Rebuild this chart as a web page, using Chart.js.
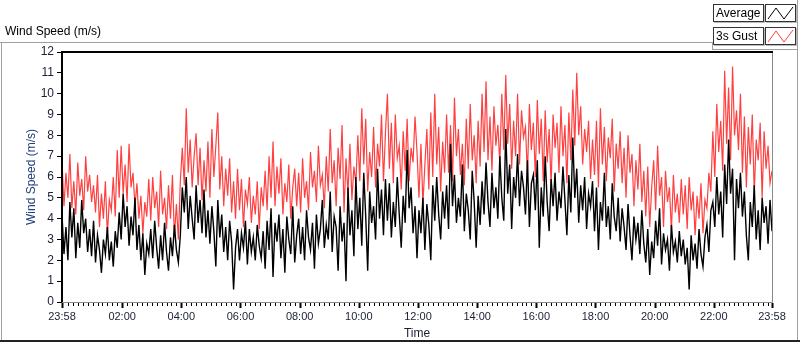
<!DOCTYPE html>
<html>
<head>
<meta charset="utf-8">
<title>Wind Speed</title>
<script src="https://cdn.jsdelivr.net/npm/chart.js@4.4.1/dist/chart.umd.min.js"></script>
<style>
  html, body { margin: 0; padding: 0; background: #fff; }
  body { width: 800px; height: 342px; position: relative; overflow: hidden; font-family: "Liberation Sans", Arial, sans-serif; }
  #chartBox { position: absolute; left: 0; top: 0; width: 800px; height: 342px; }
  .graphTitle { position: absolute; left: 5px; top: 24px; font-size: 12px; color: #000; }
  .line { position: absolute; background: #a0a0a0; }
  .lgLabel { position: absolute; left: 713px; width: 47px; height: 16px; border: 1px solid #333; background: #fff;
             font-size: 12px; line-height: 16px; padding-left: 2px; box-sizing: content-box; color: #000;
             box-shadow: 1px 1px 0 #bbb; }
  .lgSwatch { position: absolute; left: 765px; width: 29px; height: 16px; border: 1px solid #333; background: #fff;
              box-shadow: 1px 1px 0 #bbb; }
</style>
</head>
<body>
<div id="chartBox"><canvas id="windChart" width="800" height="342"></canvas></div>

<div class="graphTitle">Wind Speed (m/s)</div>
<div class="line" style="left:0;top:42px;width:712px;height:1px"></div>
<div class="line" style="left:712px;top:42px;width:1px;height:8px"></div>
<div class="line" style="left:712px;top:49px;width:86px;height:1px"></div>
<div class="line" style="left:797px;top:0;width:1px;height:342px"></div>
<div class="line" style="left:1px;top:42px;width:1px;height:300px"></div>
<div class="line" style="left:0;top:340px;width:800px;height:2px;background:#222"></div>

<div class="lgLabel" style="top:4px">Average</div>
<div class="lgSwatch" style="top:4px">
  <svg width="29" height="16"><polyline points="2,14 10,3 18,14 27,2" fill="none" stroke="#000" stroke-width="1"/></svg>
</div>
<div class="lgLabel" style="top:27px">3s Gust</div>
<div class="lgSwatch" style="top:27px">
  <svg width="29" height="16"><polyline points="2,14 10,3 18,14 27,2" fill="none" stroke="#ff4040" stroke-width="1"/></svg>
</div>

<script>
// samples every 4 minutes, starting 23:58 the previous day (one row = one hour)
const STEP_MIN = 4;

const gust3s = [
  6.8,4.6,6.2,5.0,7.1,4.5,5.8,4.2,6.7,5.1,5.9,4.4,7.0,5.3,6.1,
  4.8,5.6,4.3,6.1,3.6,5.2,4.0,5.8,3.2,4.9,4.4,6.0,4.1,7.3,5.0,
  7.5,5.2,6.6,4.8,7.6,5.5,6.2,4.6,5.7,4.0,5.1,3.3,4.8,4.1,5.9,
  3.9,6.0,4.5,5.3,3.6,6.3,4.2,5.0,3.5,5.6,4.0,6.1,3.1,4.7,3.0,
  5.8,7.4,5.6,9.3,6.2,7.8,5.5,7.0,8.1,5.6,7.4,4.9,6.8,5.3,7.7,
  5.0,8.3,6.0,7.5,9.1,5.4,7.0,4.6,6.4,5.1,6.9,4.3,5.8,4.0,6.4,
  4.4,5.9,3.6,5.4,4.7,6.0,3.8,5.1,4.2,5.8,3.5,5.5,4.6,6.3,4.4,
  7.0,5.0,7.7,4.6,6.5,5.2,6.9,4.2,5.7,4.8,6.6,4.0,5.5,6.4,4.6,
  6.2,4.3,6.9,5.0,5.8,4.4,7.2,5.5,6.3,4.8,7.5,5.6,6.1,4.5,7.0,
  5.3,8.3,5.7,6.8,4.6,7.4,5.9,8.5,4.3,6.9,5.2,7.6,4.9,6.5,5.7,
  8.0,5.8,9.3,6.6,8.8,5.3,7.2,6.0,8.4,5.5,7.6,6.5,9.0,5.8,8.1,
  10.0,6.4,8.6,5.7,9.0,6.9,7.5,5.4,8.2,6.3,8.8,5.8,7.4,6.7,8.9,
  7.2,5.0,7.6,4.7,6.6,8.3,5.4,9.1,6.0,10.0,6.6,8.4,5.3,7.7,6.2,
  9.0,6.2,8.5,5.8,9.8,7.0,8.3,6.1,7.6,5.6,8.8,6.4,9.5,6.8,8.0,
  5.7,8.7,6.5,10.0,7.2,10.6,6.8,8.9,6.3,9.4,7.5,8.5,6.6,10.0,7.3,
  10.9,7.6,9.5,6.4,8.7,7.0,10.0,6.6,9.2,7.9,8.4,6.1,9.5,7.3,8.6,
  6.0,9.7,7.1,8.8,5.8,9.2,6.7,8.3,5.6,9.0,7.4,8.6,6.2,9.4,7.0,
  8.5,5.7,9.1,6.8,10.2,7.5,11.0,8.0,9.4,6.6,8.3,7.2,8.7,5.9,7.8,
  6.1,8.7,5.5,9.3,6.6,8.4,5.8,7.9,6.9,8.8,5.3,7.6,6.4,8.2,5.7,
  7.4,5.0,8.0,6.2,7.1,4.6,6.8,5.4,7.6,4.8,6.3,4.1,6.5,3.6,5.5,
  6.8,4.4,7.5,5.1,6.0,3.6,6.3,4.8,5.5,3.4,6.1,4.3,5.2,3.8,5.9,
  4.2,5.6,3.5,6.0,4.4,5.3,3.2,5.1,4.0,5.7,3.3,4.9,4.5,6.2,5.3,
  8.2,6.0,9.5,7.2,8.7,6.3,11.1,7.6,10.3,6.8,11.3,8.0,9.2,7.3,10.0,
  6.2,8.9,5.5,8.4,6.6,9.0,5.2,7.8,6.8,8.6,5.0,8.2,6.4,7.5,5.7,
  6.3
];

const average = [
  4.2,2.3,3.6,2.0,4.8,3.1,4.5,2.1,3.8,2.6,4.9,3.3,4.0,2.4,3.5,
  2.2,3.9,1.9,3.2,2.5,1.4,3.0,2.3,3.6,2.0,2.9,1.7,3.4,2.6,4.3,
  3.0,5.2,3.6,4.6,2.7,4.1,3.2,5.0,2.5,3.7,2.0,3.3,1.3,2.8,2.3,
  3.5,2.1,3.9,2.6,1.6,3.2,2.0,3.8,2.4,1.5,3.1,2.2,3.7,2.5,1.9,
  3.2,5.5,4.3,6.0,3.5,5.1,4.0,3.0,5.6,3.8,4.9,3.3,5.4,3.1,4.4,
  2.8,4.6,3.4,1.7,4.9,3.1,4.2,2.4,3.6,2.0,3.9,2.9,0.6,2.6,3.5,
  2.0,3.3,2.6,3.9,1.8,3.5,2.4,3.1,2.0,3.7,2.7,2.1,3.4,1.6,3.9,
  2.5,4.5,1.2,3.8,2.9,4.2,2.1,3.5,1.4,4.1,3.0,2.3,4.6,1.9,3.2,
  4.0,2.3,3.6,2.0,4.4,3.1,2.5,3.8,1.6,4.2,2.8,3.5,4.9,2.6,3.7,
  3.0,5.3,2.4,4.1,3.6,1.5,4.6,2.9,3.8,1.0,5.5,3.2,4.4,2.2,6.0,
  3.5,5.0,2.7,6.2,4.1,1.5,5.3,3.8,4.6,3.0,6.4,4.0,5.4,3.2,5.9,
  3.9,5.7,3.1,4.8,3.6,6.0,4.2,2.6,5.1,3.8,7.3,4.5,5.5,3.3,4.6,
  2.1,4.4,3.3,5.0,2.5,4.7,3.7,2.0,5.6,3.9,6.0,4.2,3.0,5.3,4.0,
  5.6,3.5,7.6,4.6,6.1,3.8,5.0,4.1,6.6,3.4,5.2,4.4,3.0,6.3,4.8,
  2.6,5.1,3.7,5.8,4.2,6.7,4.8,3.6,6.2,4.5,5.5,4.0,7.0,5.0,3.9,
  8.3,5.2,6.6,3.5,6.0,5.0,7.1,4.6,6.3,5.5,4.2,6.8,3.6,5.7,6.1,
  4.4,6.8,2.6,5.5,4.1,7.0,4.8,3.4,5.9,4.6,6.2,3.9,5.3,4.5,6.5,
  4.9,3.2,6.1,4.3,7.9,5.0,6.4,3.8,5.6,4.4,6.0,3.5,5.2,4.6,5.8,
  3.4,5.5,2.5,4.8,3.9,6.2,3.6,4.6,3.0,5.7,4.1,3.4,5.0,2.9,4.5,
  3.6,2.5,4.7,3.2,2.0,4.1,3.0,3.8,2.3,4.4,2.8,1.9,3.5,1.3,2.9,
  2.1,3.9,2.7,4.5,1.8,3.3,2.5,3.0,1.5,3.7,2.4,2.9,1.9,3.4,2.2,
  3.0,1.8,2.6,0.6,3.2,2.0,2.8,1.6,3.5,2.3,1.7,3.1,3.7,2.4,4.4,
  4.8,3.6,6.0,4.2,5.3,3.1,6.6,4.7,7.8,5.2,6.4,2.0,5.9,4.5,6.2,
  4.1,5.3,3.2,2.0,4.8,3.6,5.6,3.0,4.4,2.5,5.0,3.8,4.6,2.8,4.9,
  3.4
];

const X_MAX = 1440;        // minutes shown, 23:58 -> 23:58
const MAJOR_EVERY = 120;   // labelled ticks every 2 h
const MINOR_EVERY = 10;
const HOUR_OFFSET = 2;     // 00:00 sits 2 min after the start

const toPoints = (vals) => vals.map((v, i) => ({ x: i * STEP_MIN, y: v }));

const fmtTime = (m) => {
  if (m === 0 || m === X_MAX) return "23:58";
  const h = Math.round((m - HOUR_OFFSET) / 60);
  return String(h).padStart(2, "0") + ":00";
};

const framePlugin = {
  id: "frame",
  afterDraw(chart) {
    const { ctx, chartArea: a, scales } = chart;
    const xs = scales.x;
    ctx.save();
    ctx.strokeStyle = "#000";
    xs.ticks.forEach((t) => {
      const px = Math.round(xs.getPixelForValue(t.value)) + 0.5;
      ctx.lineWidth = t.major ? 2 : 1;
      ctx.beginPath();
      ctx.moveTo(px, a.bottom + 1);
      ctx.lineTo(px, a.bottom + (t.major ? 6 : 4));
      ctx.stroke();
    });
    ctx.lineWidth = 1;
    ctx.strokeStyle = "#8a8a8a";
    ctx.beginPath();
    ctx.moveTo(a.left, a.bottom + 0.5);
    ctx.lineTo(a.right + 0.5, a.bottom + 0.5);
    ctx.lineTo(a.right + 0.5, a.top);
    ctx.stroke();
    ctx.lineWidth = 2;
    ctx.strokeStyle = "#000";
    ctx.beginPath();
    ctx.moveTo(a.left, a.bottom);
    ctx.lineTo(a.left, a.top);
    ctx.lineTo(a.right + 1, a.top);
    ctx.stroke();
    ctx.restore();
  },
};

new Chart(document.getElementById("windChart"), {
  type: "line",
  data: {
    datasets: [
      { label: "Average", data: toPoints(average), borderColor: "#000", borderWidth: 1.4, pointRadius: 0, tension: 0 },
      { label: "3s Gust", data: toPoints(gust3s), borderColor: "#ff4040", borderWidth: 1.2, pointRadius: 0, tension: 0 },
    ],
  },
  options: {
    responsive: false,
    animation: false,
    events: [],
    layout: { padding: { top: 52, right: 28, left: 0, bottom: 0 } },
    plugins: { legend: { display: false }, tooltip: { enabled: false } },
    scales: {
      x: {
        type: "linear",
        min: 0,
        max: X_MAX,
        afterFit: (s) => { s.height = 40; },
        afterBuildTicks: (s) => {
          const ticks = [{ value: 0, major: true }];
          for (let m = HOUR_OFFSET + MINOR_EVERY; m < X_MAX; m += MINOR_EVERY) {
            ticks.push({ value: m, major: (m - HOUR_OFFSET) % MAJOR_EVERY === 0 });
          }
          ticks.push({ value: X_MAX, major: true });
          s.ticks = ticks;
        },
        grid: { display: false, drawTicks: true, tickLength: 6 },
        border: { display: false },
        ticks: {
          autoSkip: false,
          maxRotation: 0,
          padding: 2,
          color: "#1a1f33",
          font: { family: "Liberation Sans", size: 11 },
          callback: function (value, index, ticks) {
            return ticks[index].major ? fmtTime(value) : "";
          },
        },
        title: {
          display: true,
          text: "Time",
          color: "#1a1f33",
          padding: { top: 0, bottom: 1 },
          font: { family: "Liberation Sans", size: 12 },
        },
      },
      y: {
        min: 0,
        max: 12,
        afterFit: (s) => { s.width = 62; },
        grid: { drawOnChartArea: false, drawTicks: true, tickLength: 5, color: "#000" },
        border: { display: false },
        ticks: {
          stepSize: 1,
          padding: 3,
          color: "#1a1f33",
          font: { family: "Liberation Sans", size: 12 },
        },
        title: {
          display: true,
          text: "Wind Speed (m/s)",
          color: "#23407a",
          padding: { top: 24, bottom: 0 },
          font: { family: "Liberation Sans", size: 12 },
        },
      },
    },
  },
  plugins: [framePlugin],
});
</script>
</body>
</html>
